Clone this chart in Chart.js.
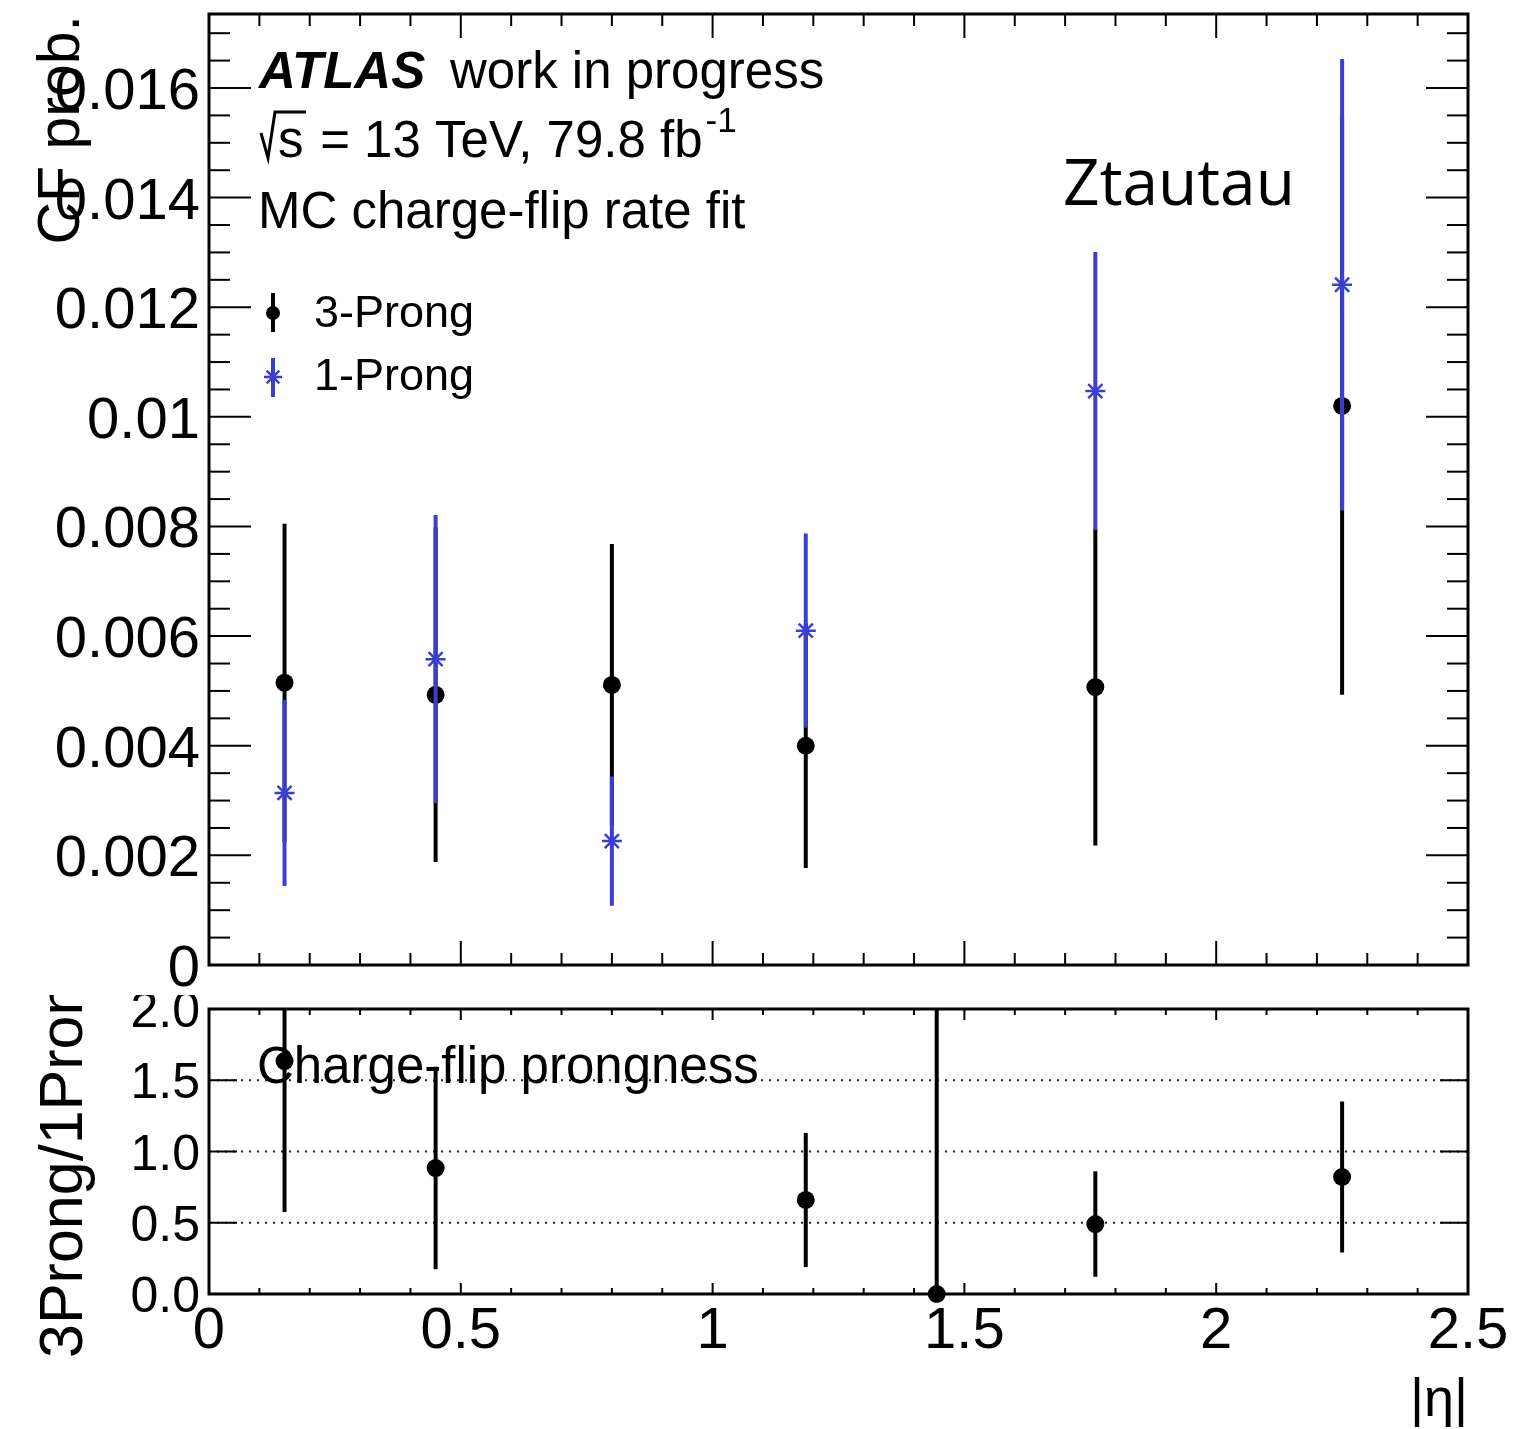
<!DOCTYPE html>
<html>
<head>
<meta charset="utf-8">
<script src="https://cdn.jsdelivr.net/npm/chart.js@4.4.0/dist/chart.umd.min.js"></script>
<style>
  body { margin: 0; background: #fff; }
  #top { position: absolute; left: 0; top: 0; }
  #bot { position: absolute; left: 0; top: 995px; }
</style>
</head>
<body>
<canvas id="top" width="1526" height="995"></canvas>
<canvas id="bot" width="1526" height="434"></canvas>
<script>
// ==================
// Data
// ==================
const etaBins = [0.15, 0.45, 0.8, 1.185, 1.445, 1.76, 2.25];

const cf3Prong    = [0.00515, 0.00493, 0.00511, 0.00400, null, 0.00507, 0.01020];
const cf3ProngErr = [0.00290, 0.00305, 0.00257, 0.00223, null, 0.00289, 0.00527];

const cf1Prong    = [0.00314, 0.00558, 0.00226, 0.00610, null, 0.01047, 0.01241];
const cf1ProngErr = [0.00170, 0.00263, 0.00118, 0.00177, null, 0.00254, 0.00412];

const ratioVals = [1.635, 0.884, null, 0.660, 0.000, 0.491, 0.821];
const ratioErr  = [1.060, 0.710, null, 0.470, 2.500, 0.370, 0.530];

const xTickVals   = [0, 0.5, 1, 1.5, 2, 2.5];
const xTickLabels = ['0', '0.5', '1', '1.5', '2', '2.5'];
const yTickVals   = [0, 0.002, 0.004, 0.006, 0.008, 0.01, 0.012, 0.014, 0.016];
const yTickLabels = ['0', '0.002', '0.004', '0.006', '0.008', '0.01', '0.012', '0.014', '0.016'];
const ratioTickVals   = [0, 0.5, 1, 1.5, 2];
const ratioTickLabels = ['0.0', '0.5', '1.0', '1.5', '2.0'];

const FONT = "'Liberation Sans', Arial, Helvetica, sans-serif";
const BLUE = '#3a3fd2';

function toPoints(vals, errs) {
  return etaBins
    .map((x, i) => ({ x: x, y: vals[i], err: errs[i] }))
    .filter(p => p.y !== null);
}

// ==================
// Plugins
// ==================
const errorBars = {
  id: 'errorBars',
  beforeDatasetDraw(chart, args) {
    const ds = chart.data.datasets[args.index];
    const { ctx, chartArea: a, scales: { x, y } } = chart;
    ctx.save();
    ctx.beginPath();
    ctx.rect(a.left, a.top, a.right - a.left, a.bottom - a.top);
    ctx.clip();
    ctx.strokeStyle = ds.borderColor;
    ctx.lineWidth = 4;
    ds.data.forEach(p => {
      const px = x.getPixelForValue(p.x);
      ctx.beginPath();
      ctx.moveTo(px, y.getPixelForValue(p.y - p.err));
      ctx.lineTo(px, y.getPixelForValue(p.y + p.err));
      ctx.stroke();
    });
    ctx.restore();
  }
};

function line(ctx, x1, y1, x2, y2) {
  ctx.beginPath();
  ctx.moveTo(x1, y1);
  ctx.lineTo(x2, y2);
  ctx.stroke();
}

// ROOT-style frame with inward ticks on all four sides
function drawFrame(chart, o) {
  const { ctx, chartArea: a, scales: { x, y } } = chart;
  ctx.save();
  ctx.strokeStyle = '#000';
  ctx.lineWidth = 2;
  for (let v = x.min; v <= x.max + 1e-9; v += o.xMinorStep) {
    const px = x.getPixelForValue(v);
    const major = xTickVals.some(t => Math.abs(t - v) < 1e-6);
    const len = major ? o.xMajor : o.xMinor;
    line(ctx, px, a.bottom, px, a.bottom - len);
    line(ctx, px, a.top, px, a.top + len);
  }
  for (let v = y.min; v <= y.max + 1e-12; v += o.yMinorStep) {
    const py = y.getPixelForValue(v);
    const major = o.yTicks.some(t => Math.abs(t - v) < o.yMinorStep / 10);
    const len = major ? o.yMajor : o.yMinor;
    if (len <= 0) continue;
    line(ctx, a.left, py, a.left + len, py);
    line(ctx, a.right, py, a.right - len, py);
  }
  ctx.lineWidth = 3;
  ctx.strokeRect(a.left, a.top, a.right - a.left, a.bottom - a.top);

  // y tick labels
  ctx.fillStyle = '#000';
  ctx.font = o.yFont + 'px ' + FONT;
  ctx.textAlign = 'right';
  ctx.textBaseline = 'alphabetic';
  o.yTicks.forEach((t, i) => {
    ctx.fillText(o.yLabels[i], a.left - 9, y.getPixelForValue(t) + o.yFont * 0.36);
  });
  ctx.restore();
}

const topFrame = {
  id: 'topFrame',
  afterDraw(chart) {
    const { ctx } = chart;
    drawFrame(chart, {
      xMinorStep: 0.1, xMajor: 24, xMinor: 12,
      yMinorStep: 0.0005, yMajor: 42, yMinor: 21,
      yTicks: yTickVals, yLabels: yTickLabels, yFont: 58
    });
    ctx.save();
    ctx.fillStyle = '#000';
    ctx.textBaseline = 'alphabetic';

    // axis title (overlaps tick labels like the original)
    ctx.save();
    ctx.translate(79, 15);
    ctx.rotate(-Math.PI / 2);
    ctx.textAlign = 'right';
    ctx.font = '59px ' + FONT;
    ctx.fillText('CF prob.', 0, 0);
    ctx.restore();

    // ATLAS label
    ctx.textAlign = 'left';
    ctx.font = 'italic bold 51px ' + FONT;
    ctx.fillText('ATLAS', 259, 88);
    ctx.font = '51px ' + FONT;
    ctx.fillText('work in progress', 450, 88);

    // sqrt(s) line
    ctx.strokeStyle = '#000';
    ctx.lineWidth = 3;
    ctx.beginPath();
    ctx.moveTo(261, 133);
    ctx.lineTo(268, 158);
    ctx.lineTo(275, 112);
    ctx.lineTo(306, 112);
    ctx.stroke();
    ctx.fillText('s', 278, 157);
    const rest = ' = 13 TeV, 79.8 fb';
    ctx.fillText(rest, 306, 157);
    const endX = 306 + ctx.measureText(rest).width;
    ctx.font = '35px ' + FONT;
    ctx.fillText('-1', endX + 3, 132);

    ctx.font = '51px ' + FONT;
    ctx.fillText('MC charge-flip rate fit', 258, 228);

    // legend
    ctx.lineWidth = 4;
    ctx.strokeStyle = '#000';
    ctx.fillStyle = '#000';
    line(ctx, 273, 293, 273, 332);
    Chart.helpers.drawPoint(ctx, { pointStyle: 'circle', radius: 7, borderWidth: 0 }, 273, 313);
    ctx.strokeStyle = BLUE;
    ctx.fillStyle = BLUE;
    line(ctx, 273, 358, 273, 397);
    ctx.lineWidth = 2.5;
    Chart.helpers.drawPoint(ctx, { pointStyle: 'star', radius: 9, borderWidth: 2.5 }, 273, 377);
    ctx.fillStyle = '#000';
    ctx.font = '45px ' + FONT;
    ctx.fillText('3-Prong', 314, 327);
    ctx.fillText('1-Prong', 314, 390);

    // sample tag
    ctx.font = "64px 'Open Sans', 'Noto Sans', sans-serif";
    ctx.fillText('Ztautau', 1063, 205);
    ctx.restore();
  }
};

const ratioGrid = {
  id: 'ratioGrid',
  beforeDatasetsDraw(chart) {
    const { ctx, chartArea: a, scales: { y } } = chart;
    ctx.save();
    ctx.strokeStyle = '#222';
    ctx.lineWidth = 2;
    ctx.setLineDash([2, 6]);
    [0.5, 1, 1.5].forEach(v => {
      const py = y.getPixelForValue(v);
      line(ctx, a.left, py, a.right, py);
    });
    ctx.restore();
  }
};

const botFrame = {
  id: 'botFrame',
  afterDraw(chart) {
    const { ctx, chartArea: a, scales: { x } } = chart;
    drawFrame(chart, {
      xMinorStep: 0.1, xMajor: 11, xMinor: 6,
      yMinorStep: 0.5, yMajor: 28, yMinor: 0,
      yTicks: ratioTickVals, yLabels: ratioTickLabels, yFont: 50
    });
    ctx.save();
    ctx.fillStyle = '#000';
    ctx.textBaseline = 'alphabetic';

    // x tick labels
    ctx.font = '58px ' + FONT;
    ctx.textAlign = 'center';
    xTickVals.forEach((t, i) => {
      ctx.fillText(xTickLabels[i], x.getPixelForValue(t), a.bottom + 54);
    });

    // x title
    ctx.textAlign = 'right';
    ctx.font = '54px ' + FONT;
    ctx.fillText('|\u03B7|', a.right, 421);

    // y title, clipped at the pad top like the original
    ctx.save();
    ctx.translate(82, 363);
    ctx.rotate(-Math.PI / 2);
    ctx.textAlign = 'left';
    ctx.font = '61px ' + FONT;
    ctx.fillText('3Prong/1Prong', 0, 0);
    ctx.restore();

    ctx.textAlign = 'left';
    ctx.font = '51px ' + FONT;
    ctx.fillText('Charge-flip prongness', 257, 88);
    ctx.restore();
  }
};

// ==================
// Upper panel: charge-flip probability
// ==================
new Chart(document.getElementById('top').getContext('2d'), {
  type: 'scatter',
  data: {
    datasets: [
      {
        label: '3-Prong',
        data: toPoints(cf3Prong, cf3ProngErr),
        borderColor: '#000',
        backgroundColor: '#000',
        pointStyle: 'circle',
        pointRadius: 9,
        pointBorderWidth: 0,
        order: 2,
        clip: false
      },
      {
        label: '1-Prong',
        data: toPoints(cf1Prong, cf1ProngErr),
        borderColor: BLUE,
        backgroundColor: BLUE,
        pointStyle: 'star',
        pointRadius: 10,
        pointBorderWidth: 2.5,
        order: 1,
        clip: false
      }
    ]
  },
  options: {
    responsive: false,
    animation: false,
    events: [],
    layout: { autoPadding: false, padding: { left: 209, right: 58, top: 14, bottom: 30 } },
    plugins: { legend: { display: false }, tooltip: { enabled: false } },
    scales: {
      x: { type: 'linear', min: 0, max: 2.5, display: false },
      y: { type: 'linear', min: 0, max: 0.01735, display: false }
    }
  },
  plugins: [errorBars, topFrame]
});

// ==================
// Lower panel: ratio
// ==================
new Chart(document.getElementById('bot').getContext('2d'), {
  type: 'scatter',
  data: {
    datasets: [{
      label: '3Prong/1Prong',
      data: toPoints(ratioVals, ratioErr),
      borderColor: '#000',
      backgroundColor: '#000',
      pointStyle: 'circle',
      pointRadius: 9,
      pointBorderWidth: 0,
      clip: false
    }]
  },
  options: {
    responsive: false,
    animation: false,
    events: [],
    layout: { autoPadding: false, padding: { left: 209, right: 58, top: 14, bottom: 135 } },
    plugins: { legend: { display: false }, tooltip: { enabled: false } },
    scales: {
      x: { type: 'linear', min: 0, max: 2.5, display: false },
      y: { type: 'linear', min: 0, max: 2.0, display: false }
    }
  },
  plugins: [ratioGrid, errorBars, botFrame]
});
</script>
</body>
</html>
